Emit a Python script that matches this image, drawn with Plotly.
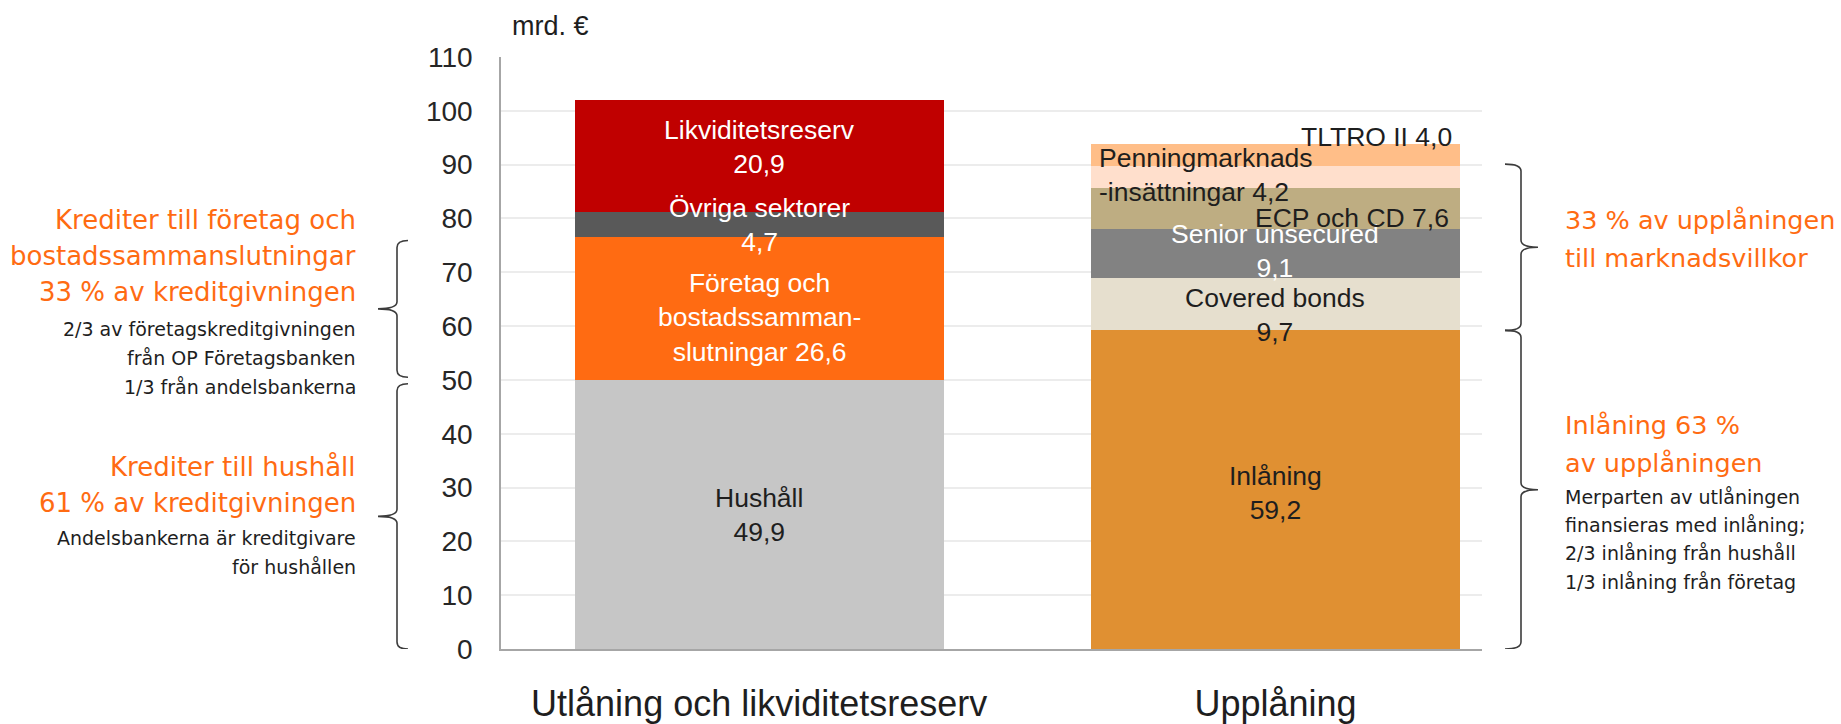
import plotly.graph_objects as go

# ---- data -------------------------------------------------------------
categories = ["Utlåning och likviditetsreserv", "Upplåning"]

lending_names = ["Hushåll", "Företag och bostadssammanslutningar", "Övriga sektorer", "Likviditetsreserv"]
lending_values = [49.9, 26.6, 4.7, 20.9]

funding_names = ["Inlåning", "Covered bonds", "Senior unsecured", "ECP och CD",
                 "Penningmarknadsinsättningar", "TLTRO II"]
funding_values = [59.2, 9.7, 9.1, 7.6, 4.2, 4.0]

y_ticks = [0, 10, 20, 30, 40, 50, 60, 70, 80, 90, 100, 110]

# ---- styling ----------------------------------------------------------
lending_colors = ["#C6C6C6", "#FF6B12", "#595959", "#C00000"]
funding_colors = ["#E09032", "#E6DFCE", "#828282", "#BEAD82", "#FFDFCC", "#FFBE88"]
ORANGE = "#FF6B12"
DARK = "#1E1E1E"
CHART_FONT = "Liberation Sans, Arial, sans-serif"
SIDE_FONT = "DejaVu Sans, Verdana, sans-serif"

W, H = 1841, 724
PLOT_L, PLOT_R, PLOT_T, PLOT_B = 501, 1482, 57, 649
X_RANGE = [-0.5, 1.4]
Y_RANGE = [0, 110]
BAR_WIDTH = 0.715


def px_x(p):
    return (p - PLOT_L) / (PLOT_R - PLOT_L)


def px_y(p):
    return (PLOT_B - p) / (PLOT_B - PLOT_T)


def fmt(v):
    return f"{v:.1f}".replace(".", ",")


def bases(values):
    out, acc = [], 0.0
    for v in values:
        out.append(acc)
        acc += v
    return out


fig = go.Figure()

for xi, names, values, colors in [
    (0, lending_names, lending_values, lending_colors),
    (1, funding_names, funding_values, funding_colors),
]:
    for n, v, c in zip(names, values, colors):
        fig.add_trace(go.Bar(
            x=[xi], y=[v], name=n, width=BAR_WIDTH,
            marker=dict(color=c, line=dict(width=0)),
            hoverinfo="skip", showlegend=False,
        ))

# ---- labels inside / beside the bars ---------------------------------
lb = bases(lending_values)
fb = bases(funding_values)
LBL = 26.5

# (x, segment base, segment value, fraction, text, colour, xanchor, align)
bar_labels = [
    (0, lb[3], lending_values[3], 0.58, f"Likviditetsreserv<br>{fmt(lending_values[3])}", "white", "center", "center"),
    (0, lb[2], lending_values[2], 0.50, f"Övriga sektorer<br>{fmt(lending_values[2])}", "white", "center", "center"),
    (0, lb[1], lending_values[1], 0.44, f"Företag och<br>bostadssamman-<br>slutningar {fmt(lending_values[1])}", "white", "center", "center"),
    (0, lb[0], lending_values[0], 0.50, f"Hushåll<br>{fmt(lending_values[0])}", DARK, "center", "center"),
    (1, fb[0], funding_values[0], 0.49, f"Inlåning<br>{fmt(funding_values[0])}", DARK, "center", "center"),
    (1, fb[1], funding_values[1], 0.30, f"Covered bonds<br>{fmt(funding_values[1])}", DARK, "center", "center"),
    (1, fb[2], funding_values[2], 0.55, f"Senior unsecured<br>{fmt(funding_values[2])}", "white", "center", "center"),
    (1.34, fb[3], funding_values[3], 0.28, f"ECP och CD {fmt(funding_values[3])}", DARK, "right", "right"),
    (0.655, fb[4], funding_values[4], 0.60, f"Penningmarknads<br>-insättningar {fmt(funding_values[4])}", DARK, "left", "left"),
    (1.346, fb[5], funding_values[5], 1.33, f"TLTRO II {fmt(funding_values[5])}", DARK, "right", "right"),
]
for x, base, val, frac, text, col, xa, al in bar_labels:
    fig.add_annotation(
        x=x, y=base + val * frac, xref="x", yref="y", text=text, showarrow=False,
        xanchor=xa, yanchor="middle", align=al,
        font=dict(family=CHART_FONT, size=LBL, color=col),
    )

# ---- side notes -------------------------------------------------------
side_notes = [
    # (x px, y px, text, size, colour, anchor)
    (358, 220, "Krediter till företag och", 26, ORANGE, "right"),
    (358, 256, "bostadssammanslutningar", 26, ORANGE, "right"),
    (358, 292, "33 % av kreditgivningen", 26, ORANGE, "right"),
    (358, 329, "2/3 av företagskreditgivningen", 19, DARK, "right"),
    (358, 358, "från OP Företagsbanken", 19, DARK, "right"),
    (358, 387, "1/3 från andelsbankerna", 19, DARK, "right"),
    (358, 467, "Krediter till hushåll", 26, ORANGE, "right"),
    (358, 503, "61 % av kreditgivningen", 26, ORANGE, "right"),
    (358, 538, "Andelsbankerna är kreditgivare", 19, DARK, "right"),
    (358, 567, "för hushållen", 19, DARK, "right"),
    (1563, 220, "33 % av upplåningen", 25.5, ORANGE, "left"),
    (1563, 258, "till marknadsvillkor", 25.5, ORANGE, "left"),
    (1563, 425, "Inlåning 63 %", 25.5, ORANGE, "left"),
    (1563, 463, "av upplåningen", 25.5, ORANGE, "left"),
    (1563, 497, "Merparten av utlåningen", 19, DARK, "left"),
    (1563, 525, "finansieras med inlåning;", 19, DARK, "left"),
    (1563, 553, "2/3 inlåning från hushåll", 19, DARK, "left"),
    (1563, 582, "1/3 inlåning från företag", 19, DARK, "left"),
]
for xp, yp, text, size, col, xa in side_notes:
    fig.add_annotation(
        x=px_x(xp), y=px_y(yp), xref="paper", yref="paper", text=text,
        showarrow=False, xanchor=xa, yanchor="middle",
        font=dict(family=SIDE_FONT, size=size, color=col),
    )

# unit label
fig.add_annotation(
    x=px_x(510), y=px_y(26), xref="paper", yref="paper", text="mrd. €",
    showarrow=False, xanchor="left", yanchor="middle",
    font=dict(family=CHART_FONT, size=27, color=DARK),
)

# ---- curly braces -----------------------------------------------------
PX_PER_UNIT = (PLOT_B - PLOT_T) / (Y_RANGE[1] - Y_RANGE[0])


def brace(x_px, y_lo, y_hi, y_mid, side, hook=11, tip=19, r=7):
    """Curly brace between two data values; side=+1 opens toward the text on the left."""
    dr = r / PX_PER_UNIT
    X = lambda p: px_x(p)
    x, xh, xt = X(x_px), X(x_px + side * hook), X(x_px - side * tip)
    return (
        f"M {xh},{y_hi} Q {x},{y_hi} {x},{y_hi - dr} "
        f"L {x},{y_mid + dr} Q {x},{y_mid} {xt},{y_mid} "
        f"Q {x},{y_mid} {x},{y_mid - dr} "
        f"L {x},{y_lo + dr} Q {x},{y_lo} {xh},{y_lo}"
    )


GAP = 0.6
brace_specs = [
    (397, lb[1] + GAP, lb[2] - GAP, 1, 11, 19),
    (397, 0, lb[1] - GAP, 1, 11, 19),
    (1521, fb[1], fb[5] + 0.3, -1, 16, 17),
    (1521, 0, fb[1], -1, 16, 17),
]
for xp, lo, hi, side, hk, tp in brace_specs:
    fig.add_shape(
        type="path", xref="paper", yref="y",
        path=brace(xp, lo, hi, (lo + hi) / 2, side, hook=hk, tip=tp),
        line=dict(color="#3C3C3C", width=1.6),
    )

# ---- layout -----------------------------------------------------------
fig.update_layout(
    width=W, height=H,
    margin=dict(l=PLOT_L, r=W - PLOT_R, t=PLOT_T, b=H - PLOT_B, pad=0, autoexpand=False),
    barmode="stack", bargap=0,
    paper_bgcolor="white", plot_bgcolor="white",
    xaxis=dict(
        range=X_RANGE, tickmode="array", tickvals=[0, 1], ticktext=categories,
        showgrid=False, zeroline=False, showline=True, linecolor="#A6A6A6", linewidth=2,
        ticks="", ticklabelstandoff=22, automargin=False,
        tickfont=dict(family=CHART_FONT, size=36, color=DARK),
        fixedrange=True,
    ),
    yaxis=dict(
        range=Y_RANGE, tickmode="array", tickvals=y_ticks,
        showgrid=True, gridcolor="#ECECEC", gridwidth=2,
        zeroline=False, showline=True, linecolor="#A6A6A6", linewidth=1.5,
        ticks="", ticklabelstandoff=21, automargin=False,
        tickfont=dict(family=CHART_FONT, size=28, color="#262626"),
        fixedrange=True,
    ),
)

fig.write_html("out.html")
